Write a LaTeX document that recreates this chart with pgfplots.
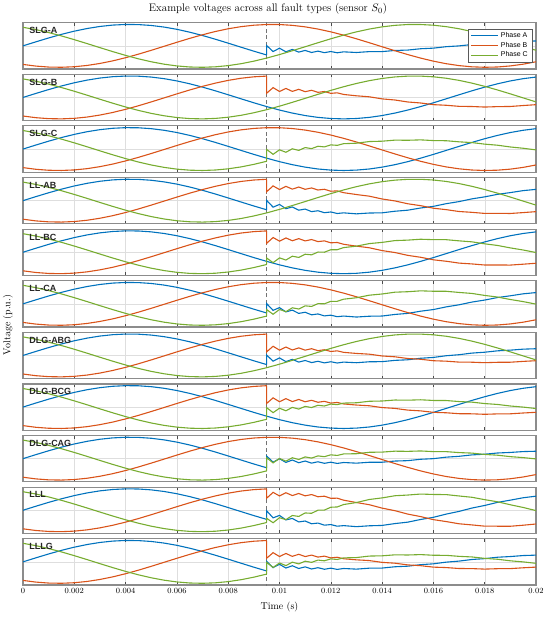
\documentclass[border=0pt]{standalone}
\usepackage{pgfplots}
\pgfplotsset{compat=1.18}
\usepackage{pgfplotstable}
\usepackage{fontspec}
\setsansfont{Liberation Sans}

\definecolor{cA}{RGB}{0,114,189}
\definecolor{cB}{RGB}{217,83,25}
\definecolor{cC}{RGB}{119,172,48}

% healthy three-phase set, t in ms
\pgfplotstableread{
t A B C
0 0 -0.866 0.866
0.5 0.187 -0.944 0.757
1 0.368 -0.989 0.621
1.5 0.536 -0.999 0.463
2 0.685 -0.974 0.289
2.5 0.809 -0.914 0.105
3 0.905 -0.821 -0.084
3.5 0.969 -0.700 -0.269
4 0.998 -0.554 -0.445
4.5 0.992 -0.388 -0.605
5 0.951 -0.208 -0.743
5.5 0.876 -0.021 -0.855
6 0.771 0.167 -0.937
6.5 0.637 0.349 -0.986
7 0.482 0.518 -1.000
7.5 0.309 0.669 -0.978
8 0.125 0.797 -0.922
8.5 -0.063 0.896 -0.833
9 -0.249 0.963 -0.714
9.5 -0.426 0.996 -0.571
10 -0.588 0.995 -0.407
10.5 -0.729 0.957 -0.228
11 -0.844 0.886 -0.042
11.5 -0.930 0.783 0.146
12 -0.982 0.653 0.329
12.5 -1.000 0.500 0.500
13 -0.982 0.329 0.653
13.5 -0.930 0.146 0.783
14 -0.844 -0.042 0.886
14.5 -0.729 -0.228 0.957
15 -0.588 -0.407 0.995
15.5 -0.426 -0.571 0.996
16 -0.249 -0.714 0.963
16.5 -0.063 -0.833 0.896
17 0.125 -0.922 0.797
17.5 0.309 -0.978 0.669
18 0.482 -1.000 0.518
18.5 0.637 -0.986 0.349
19 0.771 -0.937 0.167
19.5 0.876 -0.855 -0.021
20 0.951 -0.743 -0.208
}\base

% single line to ground, faulted phase of SLG-A / SLG-B / SLG-C
\pgfplotstableread{
t A B C
9.5 -0.426 0.996 -0.571
9.5 0.015 0.198 -0.017
9.75 -0.267 0.458 -0.246
10 -0.109 0.278 -0.035
10.25 -0.278 0.421 -0.151
10.5 -0.167 0.283 0.013
10.75 -0.293 0.379 -0.062
11 -0.213 0.269 0.069
11.25 -0.310 0.334 0.020
11.5 -0.246 0.238 0.130
11.75 -0.318 0.277 0.100
12 -0.265 0.191 0.195
12.25 -0.323 0.216 0.173
12.5 -0.280 0.140 0.250
13 -0.310 0.077 0.273
13.5 -0.269 0.030 0.350
14 -0.268 -0.067 0.367
14.5 -0.215 -0.119 0.416
15 -0.197 -0.211 0.410
15.5 -0.135 -0.258 0.428
16 -0.107 -0.336 0.396
16.5 -0.039 -0.365 0.388
17 -0.002 -0.415 0.337
17.5 0.061 -0.423 0.302
18 0.092 -0.448 0.229
18.5 0.148 -0.428 0.179
19 0.172 -0.421 0.097
19.5 0.212 -0.377 0.037
20 0.227 -0.337 -0.039
}\slg

% line to line
\pgfplotstableread{
t A B C
9.5 -0.426 0.996 -0.571
9.5 0.011 0.418 -0.268
9.75 -0.303 0.688 -0.486
10 -0.176 0.518 -0.263
10.25 -0.375 0.668 -0.364
10.5 -0.293 0.537 -0.184
10.75 -0.445 0.636 -0.241
11 -0.392 0.529 -0.092
11.25 -0.512 0.593 -0.121
11.5 -0.471 0.497 0.010
11.75 -0.562 0.531 0.002
12 -0.528 0.440 0.118
12.25 -0.599 0.456 0.118
12.5 -0.569 0.372 0.217
13 -0.615 0.285 0.285
13.5 -0.577 0.209 0.404
14 -0.568 0.078 0.460
14.5 -0.494 -0.013 0.544
15 -0.445 -0.145 0.566
15.5 -0.343 -0.234 0.607
16 -0.266 -0.353 0.588
16.5 -0.141 -0.420 0.586
17 -0.044 -0.506 0.532
17.5 0.083 -0.545 0.486
18 0.177 -0.595 0.393
18.5 0.295 -0.594 0.317
19 0.376 -0.598 0.203
19.5 0.468 -0.557 0.105
20 0.526 -0.513 -0.013
}\ll

% grounded faults (DLG-ABG, DLG-BCG, LLLG)
\pgfplotstableread{
t A B C
9.5 -0.426 0.996 -0.571
9.5 0.019 0.169 -0.028
9.75 -0.268 0.429 -0.261
10 -0.114 0.248 -0.054
10.25 -0.288 0.392 -0.175
10.5 -0.181 0.256 -0.015
10.75 -0.310 0.354 -0.095
11 -0.234 0.247 0.031
11.25 -0.333 0.315 -0.023
11.5 -0.272 0.223 0.083
11.75 -0.346 0.267 0.049
12 -0.294 0.185 0.139
12.25 -0.352 0.215 0.112
12.5 -0.310 0.145 0.185
13 -0.339 0.094 0.200
13.5 -0.295 0.060 0.270
14 -0.289 -0.024 0.282
14.5 -0.229 -0.063 0.328
15 -0.202 -0.142 0.320
15.5 -0.131 -0.178 0.339
16 -0.092 -0.246 0.308
16.5 -0.013 -0.267 0.304
17 0.035 -0.310 0.257
17.5 0.110 -0.315 0.229
18 0.151 -0.338 0.163
18.5 0.216 -0.319 0.121
19 0.248 -0.315 0.049
19.5 0.294 -0.277 -0.002
20 0.314 -0.245 -0.069
}\gnd

% DLG-CAG
\pgfplotstableread{
t A C
9.5 -0.426 -0.571
9.5 0.121 0.039
9.75 -0.162 -0.197
10 -0.005 0.008
10.25 -0.175 -0.115
10.5 -0.064 0.042
10.75 -0.190 -0.040
11 -0.111 0.082
11.25 -0.208 0.026
11.5 -0.145 0.129
11.75 -0.218 0.092
12 -0.165 0.179
12.25 -0.223 0.150
12.5 -0.180 0.220
13 -0.210 0.231
13.5 -0.168 0.297
14 -0.166 0.306
14.5 -0.112 0.349
15 -0.093 0.341
15.5 -0.029 0.359
16 0.000 0.329
16.5 0.070 0.327
17 0.109 0.283
17.5 0.175 0.259
18 0.207 0.197
18.5 0.264 0.161
19 0.290 0.094
19.5 0.330 0.049
20 0.346 -0.012
}\cag

% LLL
\pgfplotstableread{
t A B C
9.5 -0.426 0.996 -0.571
9.5 -0.027 0.562 -0.376
9.75 -0.354 0.835 -0.582
10 -0.240 0.667 -0.348
10.25 -0.451 0.817 -0.437
10.5 -0.381 0.686 -0.245
10.75 -0.544 0.782 -0.288
11 -0.502 0.673 -0.126
11.25 -0.630 0.732 -0.142
11.5 -0.598 0.630 0.003
11.75 -0.696 0.656 0.009
12 -0.668 0.557 0.140
12.25 -0.743 0.564 0.154
12.5 -0.717 0.470 0.267
13 -0.765 0.360 0.360
13.5 -0.725 0.259 0.502
14 -0.708 0.100 0.577
14.5 -0.621 -0.020 0.677
15 -0.555 -0.179 0.710
15.5 -0.431 -0.295 0.756
16 -0.330 -0.438 0.737
16.5 -0.179 -0.528 0.730
17 -0.053 -0.631 0.666
17.5 0.102 -0.684 0.606
18 0.224 -0.742 0.494
18.5 0.368 -0.744 0.395
19 0.472 -0.746 0.256
19.5 0.583 -0.698 0.130
20 0.657 -0.641 -0.016
}\lll

\pgfplotsset{
  panel/.style={
    anchor=north west, scale only axis,
    width=513bp, height=46.3bp,
    xmin=0, xmax=20, ymin=-1.08, ymax=1.08,
    xtick={0,2,...,20}, xticklabels={},
    ytick={0}, yticklabels={}, ytick style={draw=none},
    xtick pos=both, tick align=inside,
    major tick length=3bp,
    xtick style={draw=black!70, line width=0.5pt},
    grid=major, grid style={draw=black!13, line width=0.4pt},
    axis line style={draw=black!45, line width=1.2pt},
    clip mode=individual,
    every axis plot/.append style={forget plot, line width=1.1pt},
  },
}
\newcommand{\ok}[2]{\addplot[#1] table[x=t,y=#2]{\base};}
\newcommand{\bad}[3]{%
  \addplot[#1, restrict x to domain=0:9.5] table[x=t,y=#2]{\base};
  \addplot[#1] table[x=t,y=#2]{#3};}
\newcommand{\fault}{\addplot[black!55, line width=0.6pt, dash pattern=on 4bp off 2.5bp] coordinates {(9.5,-1.2) (9.5,1.2)};}
\newcommand{\plabel}[1]{\node[anchor=north west, inner sep=0pt, yshift=-4.5bp,
  font=\sffamily\bfseries\fontsize{9}{9}\selectfont, text=black!85] at (rel axis cs:0.012,1) {#1};}

\begin{document}
\begin{tikzpicture}

\node[font=\fontsize{11}{13}\selectfont] at (268bp,-9bp) {Example voltages across all fault types (sensor $S_0$)};
\node[rotate=90, font=\fontsize{10}{12}\selectfont] at (8bp,-325bp) {Voltage (p.u.)};

\begin{axis}[panel, at={(23bp,-22.7bp)},
  legend style={at={(rel axis cs:0.994,0.87)}, anchor=north east,
    draw=black!65, line width=0.5pt, fill=white,
    font=\sffamily\fontsize{7}{7.8}\selectfont,
    inner xsep=3bp, inner ysep=1.5bp, row sep=-0.8bp},
  legend cell align=left,
  legend image code/.code={\draw[#1] (0bp,0bp) -- (27bp,0bp);}]
\fault
\bad{cA}{A}{\slg} \ok{cB}{B} \ok{cC}{C}
\plabel{SLG-A}
\addlegendimage{cA, line width=1.1pt}\addlegendentry{Phase A}
\addlegendimage{cB, line width=1.1pt}\addlegendentry{Phase B}
\addlegendimage{cC, line width=1.1pt}\addlegendentry{Phase C}
\end{axis}

\begin{axis}[panel, at={(23bp,-74.3bp)}]
\fault \ok{cA}{A} \bad{cB}{B}{\slg} \ok{cC}{C} \plabel{SLG-B}
\end{axis}

\begin{axis}[panel, at={(23bp,-125.9bp)}]
\fault \ok{cA}{A} \ok{cB}{B} \bad{cC}{C}{\slg} \plabel{SLG-C}
\end{axis}

\begin{axis}[panel, at={(23bp,-177.5bp)}]
\fault \bad{cA}{A}{\ll} \bad{cB}{B}{\ll} \ok{cC}{C} \plabel{LL-AB}
\end{axis}

\begin{axis}[panel, at={(23bp,-229.1bp)}]
\fault \ok{cA}{A} \bad{cB}{B}{\ll} \bad{cC}{C}{\ll} \plabel{LL-BC}
\end{axis}

\begin{axis}[panel, at={(23bp,-280.7bp)}]
\fault \bad{cA}{A}{\ll} \ok{cB}{B} \bad{cC}{C}{\ll} \plabel{LL-CA}
\end{axis}

\begin{axis}[panel, at={(23bp,-332.3bp)}]
\fault \bad{cA}{A}{\gnd} \bad{cB}{B}{\gnd} \ok{cC}{C} \plabel{DLG-ABG}
\end{axis}

\begin{axis}[panel, at={(23bp,-383.9bp)}]
\fault \ok{cA}{A} \bad{cB}{B}{\gnd} \bad{cC}{C}{\gnd} \plabel{DLG-BCG}
\end{axis}

\begin{axis}[panel, at={(23bp,-435.5bp)}]
\fault \bad{cA}{A}{\cag} \ok{cB}{B} \bad{cC}{C}{\cag} \plabel{DLG-CAG}
\end{axis}

\begin{axis}[panel, at={(23bp,-487.1bp)}]
\fault \bad{cA}{A}{\lll} \bad{cB}{B}{\lll} \bad{cC}{C}{\lll} \plabel{LLL}
\end{axis}

\begin{axis}[panel, at={(23bp,-538.7bp)},
  xticklabels={0,0.002,0.004,0.006,0.008,0.01,0.012,0.014,0.016,0.018,0.02},
  xticklabel style={font=\fontsize{8}{8}\selectfont},
  xlabel={Time (s)},
  xlabel style={font=\fontsize{10}{12}\selectfont, at={(axis description cs:0.5,0)}, anchor=center, yshift=-22bp}]
\fault \bad{cA}{A}{\gnd} \bad{cB}{B}{\gnd} \bad{cC}{C}{\gnd} \plabel{LLLG}
\end{axis}

\pgfresetboundingbox
\useasboundingbox (0,0) rectangle (550bp,-618bp);
\end{tikzpicture}
\end{document}
